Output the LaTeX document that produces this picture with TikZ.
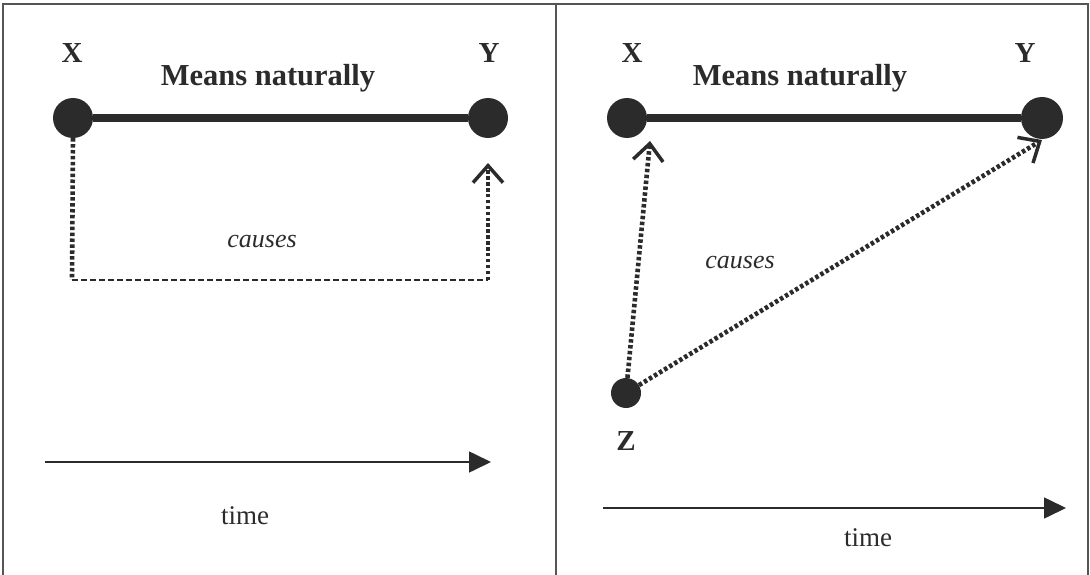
\documentclass[tikz,border=0pt]{standalone}
\usepackage{fontspec}
\setmainfont{Liberation Serif}
\usetikzlibrary{arrows.meta}
\definecolor{ink}{HTML}{2B2B2B}
\definecolor{frame}{HTML}{555555}
\tikzset{
  dot/.style={circle, fill=ink, inner sep=0pt, minimum size=#1},
  lbl/.style={font=\fontsize{29}{31}\selectfont\bfseries, text=ink, inner sep=0pt, anchor=base},
  meanlbl/.style={font=\fontsize{30.5}{32}\selectfont\bfseries, text=ink, inner sep=0pt, anchor=base},
  timelbl/.style={font=\fontsize{27}{29}\selectfont, text=ink, inner sep=0pt, anchor=base},
  causelbl/.style={font=\fontsize{26}{28}\selectfont\itshape, text=ink, inner sep=0pt},
  meansline/.style={line width=8pt, draw=ink},
  dotline/.style={line width=4.6pt, draw=ink, dash pattern=on 3.5pt off 2.4pt},
  thindash/.style={line width=2pt, draw=ink, dash pattern=on 6pt off 3pt},
  causearrow/.style={-{Straight Barb[length=17pt,width=30pt,line width=3.5pt]}},
  timearrow/.style={line width=1.6pt, draw=ink, -{Triangle[length=22pt,width=21pt]}},
  border/.style={line width=2pt, draw=frame}
}
\begin{document}
\begin{tikzpicture}[x=1pt,y=-1pt]
\useasboundingbox (0,0) rectangle (1090,575);
% frame
\draw[border] (3,576) -- (3,4) -- (1088,4) -- (1088,576);
\draw[border] (556,4) -- (556,576);

% ---------- left panel ----------
\node[lbl] (xlab1) at (72,63) {X};
\node[lbl] (ylab1) at (489,63) {Y};
\node[meanlbl] (mean1) at (268,86) {Means naturally};
\node[dot=40pt] (x1) at (73,118) {};
\node[dot=40pt] (y1) at (488,118) {};
\draw[meansline] (x1) -- (y1);
\coordinate (c1) at (72,280);
\coordinate (c2) at (488,280);
\coordinate (y1tip) at (488,163);
\draw[dotline] (x1.south) -- (c1);
\draw[thindash] (c1) -- (c2);
\draw[dotline, line width=3.6pt, causearrow] (c2) -- (y1tip);
\node[causelbl] (cause1) at (262,242) {causes};
\coordinate (t1s) at (45,462);
\coordinate (t1e) at (491,462);
\draw[timearrow] (t1s) -- (t1e);
\node[timelbl] (time1) at (245,524) {time};

% ---------- right panel ----------
\node[lbl] (xlab2) at (632,63) {X};
\node[lbl] (ylab2) at (1025,63) {Y};
\node[meanlbl] (mean2) at (800,86) {Means naturally};
\node[dot=40pt] (x2) at (627,118) {};
\node[dot=42pt] (y2) at (1042,118) {};
\draw[meansline] (x2) -- (y2);
\node[dot=30pt] (z) at (626,393) {};
\node[lbl] (zlab) at (626,450) {Z};
\coordinate (x2tip) at (650,141);
\coordinate (y2tip) at (1042,140);
\draw[dotline, causearrow] (z) -- (x2tip);
\draw[dotline, causearrow] (z) -- (y2tip);
\node[causelbl] (cause2) at (740,263) {causes};
\coordinate (t2s) at (603,508);
\coordinate (t2e) at (1066,508);
\draw[timearrow] (t2s) -- (t2e);
\node[timelbl] (time2) at (868,546) {time};
\end{tikzpicture}
\end{document}
